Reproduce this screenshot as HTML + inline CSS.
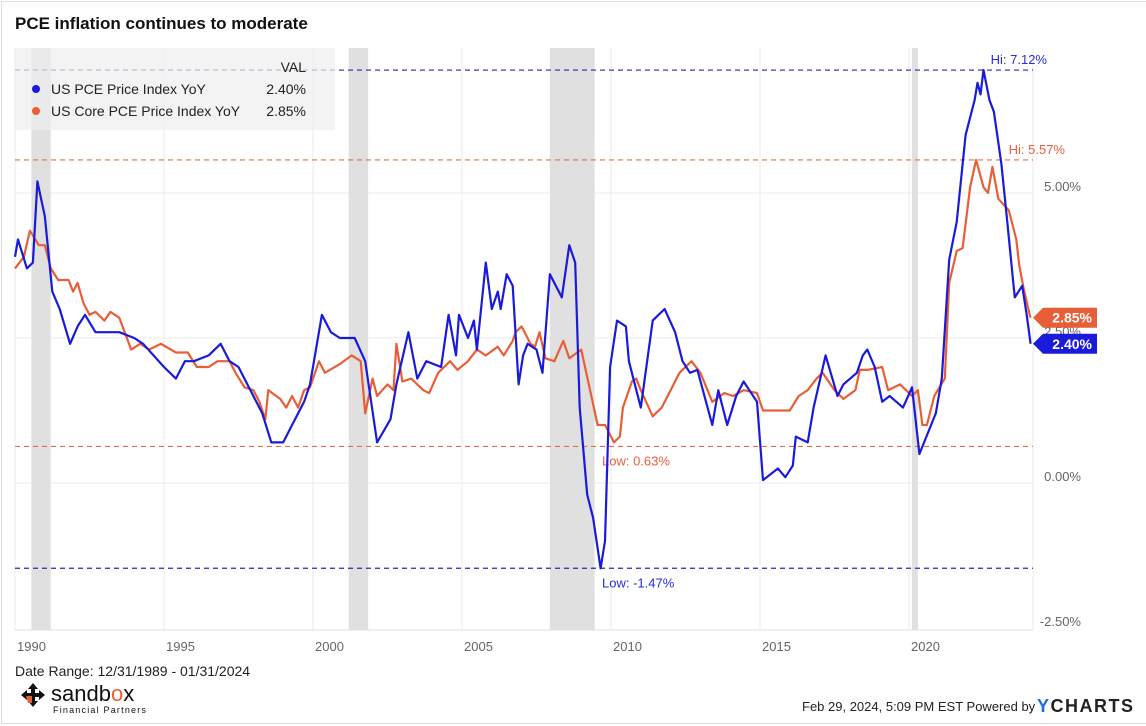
<!DOCTYPE html>
<html><head><meta charset="utf-8">
<style>
body{margin:0;background:#fff;font-family:"Liberation Sans",sans-serif;}
#wrap{position:relative;width:1146px;height:726px;overflow:hidden;}
</style></head>
<body>
<div id="wrap">
<svg id="chart" width="1146" height="726" xmlns="http://www.w3.org/2000/svg">
<rect x="1.5" y="1.5" width="1150" height="722" fill="#fff" stroke="#ddd"/>
<text x="15" y="29" font-size="17" font-weight="bold" fill="#111">PCE inflation continues to moderate</text>
<g id="grid"></g>
<g id="bands"></g>
<g id="refs"></g>
<g id="series"></g>
<g id="legend">
<rect x="15" y="48" width="320" height="82" fill="#eeeeee" fill-opacity="0.7"/>
<text x="306" y="72" font-size="14" fill="#222" text-anchor="end">VAL</text>
<circle cx="36" cy="89" r="4" fill="#1a1adb"/>
<text x="51" y="94" font-size="14" fill="#222">US PCE Price Index YoY</text>
<text x="306" y="94" font-size="14" fill="#222" text-anchor="end">2.40%</text>
<circle cx="36" cy="111" r="4" fill="#e85f37"/>
<text x="51" y="116" font-size="14" fill="#222">US Core PCE Price Index YoY</text>
<text x="306" y="116" font-size="14" fill="#222" text-anchor="end">2.85%</text>
</g>
<g id="tags"></g>
<text x="15" y="676" font-size="14" fill="#222">Date Range: 12/31/1989 - 01/31/2024</text>
<g>
<path d="M33 683 L38 689 L35 689 L35 693 L39 693 L39 690 L45 695 L39 700 L39 697 L35 697 L35 701 L38 701 L33 707 L28 701 L31 701 L31 697 L27 697 L27 700 L21 695 L27 690 L27 693 L31 693 L31 689 L28 689 Z" fill="#111"/>
<path d="M26 696 L32 696 L32 703 L28 703 Z" fill="#e85f37"/>
<text x="51" y="701" font-size="22" fill="#111">sandb<tspan fill="#e85f37">o</tspan>x</text>
<text x="53" y="713" font-size="9" letter-spacing="1.2" fill="#111">Financial Partners</text>
</g>
<text x="802" y="711" font-size="13" fill="#222">Feb 29, 2024, 5:09 PM EST Powered by</text>
<text x="1037" y="712" font-size="18" font-weight="bold" fill="#222" letter-spacing="1.5"><tspan fill="#1a6fe0">Y</tspan>CHARTS</text>
</svg>
</div>
<script>
const pceDates=[1990.0,1990.1,1990.4,1990.6,1990.75,1991.0,1991.25,1991.5,1991.85,1992.1,1992.35,1992.7,1993.0,1993.5,1994.0,1994.3,1995.0,1995.4,1995.7,1996.0,1996.5,1996.9,1997.2,1997.5,1997.8,1998.3,1998.6,1999.0,1999.3,1999.7,1999.9,2000.3,2000.6,2000.9,2001.4,2001.75,2002.15,2002.6,2002.8,2003.2,2003.5,2003.8,2004.3,2004.55,2004.8,2004.9,2005.2,2005.4,2005.5,2005.8,2006.0,2006.2,2006.3,2006.5,2006.7,2006.9,2007.05,2007.2,2007.5,2007.7,2007.95,2008.35,2008.6,2008.8,2008.95,2009.2,2009.4,2009.65,2009.8,2009.97,2010.2,2010.5,2010.6,2011.0,2011.4,2011.8,2012.15,2012.4,2012.65,2012.9,2013.4,2013.6,2013.9,2014.2,2014.45,2014.9,2015.1,2015.6,2015.85,2016.1,2016.2,2016.6,2016.8,2017.2,2017.6,2017.8,2018.25,2018.45,2018.6,2018.85,2019.1,2019.35,2019.8,2020.1,2020.35,2020.9,2021.1,2021.35,2021.6,2021.9,2022.2,2022.3,2022.4,2022.5,2022.7,2022.85,2023.1,2023.3,2023.5,2023.55,2023.8,2023.95,2024.08];
const pceValues=[3.9,4.2,3.7,3.8,5.2,4.6,3.3,3.0,2.4,2.7,2.9,2.6,2.6,2.6,2.5,2.4,2.0,1.8,2.1,2.1,2.2,2.4,2.1,2.0,1.7,1.2,0.7,0.7,1.0,1.4,1.7,2.9,2.6,2.5,2.5,2.1,0.7,1.1,1.7,2.6,1.8,2.1,2.0,2.9,2.2,2.9,2.5,2.8,2.3,3.8,3.0,3.3,3.0,3.6,3.4,1.7,2.2,2.4,2.3,1.9,3.6,3.2,4.1,3.8,1.3,-0.2,-0.6,-1.47,-1.0,2.0,2.8,2.7,2.1,1.3,2.8,3.0,2.6,2.1,1.9,1.95,1.0,1.6,1.0,1.5,1.75,1.4,0.05,0.25,0.1,0.3,0.8,0.7,1.3,2.2,1.5,1.7,1.9,2.2,2.3,2.0,1.4,1.5,1.3,1.65,0.5,1.2,1.8,3.85,4.5,6.0,6.6,6.9,6.7,7.12,6.6,6.4,5.5,4.5,3.45,3.2,3.4,2.9,2.4];
const coreDates=[1990.0,1990.3,1990.5,1990.8,1991.0,1991.2,1991.45,1991.8,1991.95,1992.1,1992.3,1992.5,1992.7,1993.0,1993.2,1993.5,1993.9,1994.2,1994.5,1994.9,1995.4,1995.8,1996.1,1996.5,1996.8,1997.2,1997.4,1997.7,1998.0,1998.2,1998.4,1998.5,1998.9,1999.1,1999.3,1999.5,1999.7,1999.9,2000.2,2000.4,2000.9,2001.3,2001.6,2001.75,2002.0,2002.15,2002.5,2002.7,2002.8,2003.0,2003.3,2003.7,2003.9,2004.2,2004.6,2004.85,2005.2,2005.5,2005.8,2006.2,2006.4,2006.7,2006.8,2007.0,2007.3,2007.45,2007.6,2007.8,2008.1,2008.4,2008.6,2009.0,2009.3,2009.55,2009.8,2010.1,2010.3,2010.4,2010.7,2010.85,2011.0,2011.4,2011.7,2012.0,2012.3,2012.7,2013.0,2013.4,2013.8,2014.1,2014.45,2014.9,2015.1,2015.6,2016.0,2016.3,2016.6,2016.9,2017.1,2017.5,2017.8,2018.2,2018.35,2018.6,2019.1,2019.3,2019.7,2020.1,2020.3,2020.45,2020.6,2020.85,2021.2,2021.35,2021.6,2021.8,2022.05,2022.25,2022.5,2022.65,2022.8,2023.0,2023.35,2023.6,2023.7,2023.85,2024.05,2024.08];
const coreValues=[3.7,3.9,4.35,4.1,4.1,3.7,3.5,3.5,3.3,3.45,3.1,2.9,2.95,2.8,2.95,2.85,2.3,2.4,2.3,2.4,2.25,2.25,2.0,2.0,2.1,2.1,1.9,1.65,1.6,1.4,1.1,1.6,1.45,1.3,1.5,1.3,1.6,1.65,2.1,1.9,2.05,2.2,2.1,1.2,1.8,1.5,1.7,1.6,2.4,1.75,1.8,1.6,1.55,1.9,2.1,1.95,2.1,2.3,2.2,2.35,2.2,2.45,2.6,2.7,2.4,2.35,2.6,2.15,2.1,2.45,2.15,2.3,1.6,1.0,1.0,0.7,0.8,1.3,1.75,1.8,1.6,1.15,1.3,1.6,1.9,2.1,1.9,1.4,1.55,1.5,1.6,1.55,1.25,1.25,1.25,1.5,1.6,1.8,1.9,1.6,1.45,1.6,1.95,1.95,2.0,1.6,1.7,1.5,1.6,1.0,1.0,1.5,1.8,3.45,4.0,4.05,5.1,5.57,5.1,5.0,5.45,4.9,4.7,4.2,3.75,3.35,2.9,2.85];
const xTickYears=[1990,1995,2000,2005,2010,2015,2020];
const yTickValues=[-2.5,0,2.5,5];
const recessionStarts=[1990.55,2001.2,2007.95,2020.1];
const recessionEnds=[1991.2,2001.85,2009.45,2020.3];
const refValues=[7.12,5.57,0.63,-1.47];
const refLabels=["Hi: 7.12%","Hi: 5.57%","Low: 0.63%","Low: -1.47%"];

const NS="http://www.w3.org/2000/svg";
const X0=15,X1=1033,YT=48,YB=630;
const xs=y=>15+(y-1990)*29.8;
const ys=v=>483-v*58;
function mk(tag,attrs,parent){const e=document.createElementNS(NS,tag);for(const k in attrs)e.setAttribute(k,attrs[k]);parent.appendChild(e);return e;}
const grid=document.getElementById('grid');
yTickValues.forEach(v=>{
  if(v>-2.5){
    const l=mk('line',{x1:X0,x2:X1,y1:ys(v),y2:ys(v),stroke:'#efefef','stroke-width':1.2},grid);
    
    
  }
  const t=mk('text',{x:1081,y:ys(v)-2,'font-size':13,fill:'#666','text-anchor':'end'},grid);
  t.textContent=v.toFixed(2)+'%';
  
  
});
xTickYears.forEach(yr=>{
  const x=xs(yr);
  const l=mk('line',{x1:x,x2:x,y1:YT,y2:YB,stroke:'#ebebeb','stroke-width':1},grid);
  
  
  const t=mk('text',{x:x+2,y:651,'font-size':13,fill:'#666'},grid);
  t.textContent=yr;
  
  
});
const ax=mk('line',{x1:X0,x2:X1,y1:YB,y2:YB,stroke:'#e0e0e0','stroke-width':1},grid);


const ay=mk('line',{x1:X1,x2:X1,y1:YT,y2:YB,stroke:'#ebebeb','stroke-width':1},grid);


const bands=document.getElementById('bands');
recessionStarts.forEach((s,i)=>{
  const r=mk('rect',{x:xs(s),y:YT,width:xs(recessionEnds[i])-xs(s),height:YB-YT,fill:'#e0e0e0'},bands);
  
  
});
const refs=document.getElementById('refs');
const refColors=['#2a2aa8','#e0704d','#e0704d','#2a2aa8'];
const labColors=['#2a2ae0','#e8603a','#e8603a','#2a2ae0'];
refValues.forEach((v,i)=>{
  const y=ys(v);
  const l=mk('line',{x1:X0,x2:X1,y1:y,y2:y,stroke:refColors[i],'stroke-width':1.2,'stroke-dasharray':'5,4'},refs);
  
  
  const above=i<2;
  const t=mk('text',{x:i===0?1047:(i===1?1065:602),y:above?y-6:y+19,'font-size':13,fill:labColors[i],'text-anchor':i<2?'end':'start'},refs);
  t.textContent=refLabels[i];
  
  
});
const series=document.getElementById('series');
function path(dates,vals,color,name){
  let d='';
  dates.forEach((yr,i)=>{d+=(i?'L':'M')+Math.max(X0,xs(yr)).toFixed(1)+' '+ys(vals[i]).toFixed(1);});
  const p=mk('path',{d:d,fill:'none',stroke:color,'stroke-width':2.2,'stroke-linejoin':'round'},series);
  
  
}
path(coreDates,coreValues,'#e85f37','core-pce-line');
path(pceDates,pceValues,'#1a1adb','pce-line');
const tags=document.getElementById('tags');
function tag(v,color,name){
  const y=ys(v);
  const p=mk('path',{d:`M1033 ${y} L1043 ${y-10} L1097 ${y-10} L1097 ${y+10} L1043 ${y+10} Z`,fill:color},tags);
  
  
  const t=mk('text',{x:1092,y:y+5,'font-size':14,'font-weight':'bold',fill:'#fff','text-anchor':'end'},tags);
  t.textContent=v.toFixed(2)+'%';
  
  
}
tag(coreValues[coreValues.length-1],'#e85f37','core-end-tag');
tag(pceValues[pceValues.length-1],'#1a1adb','pce-end-tag');
</script>
</body></html>
